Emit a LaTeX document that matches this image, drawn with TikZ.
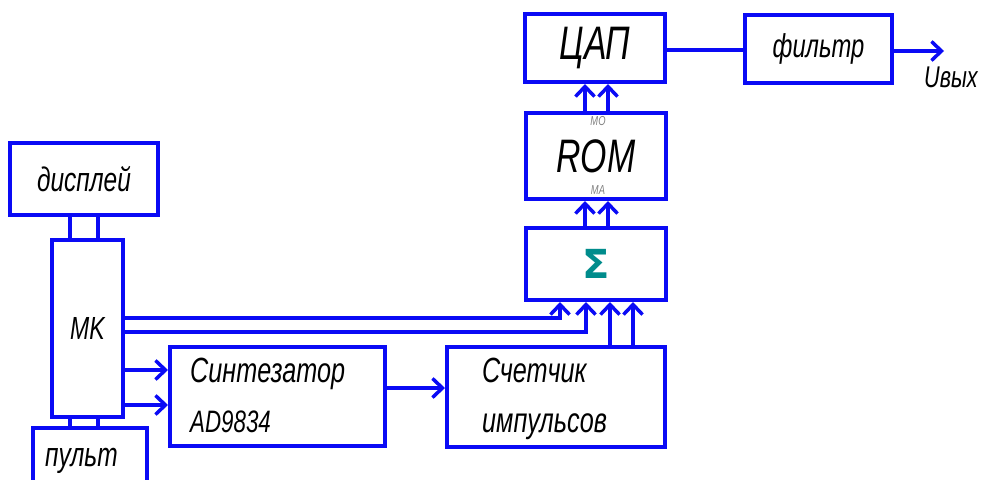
\documentclass[tikz,border=0pt]{standalone}
\usepackage{fontspec}
\usetikzlibrary{arrows.meta}
\newfontfamily\gost[FakeStretch=0.72]{Liberation Sans Italic}
\newfontfamily\sigfont{DejaVu Sans Bold}
\definecolor{lineblue}{RGB}{10,10,245}
\definecolor{sigteal}{RGB}{0,140,140}
\tikzset{
  box/.style={draw=lineblue, line width=4pt, rectangle, inner sep=0pt, font=\gost, text=black},
  conn/.style={draw=lineblue, line width=4pt},
  arr/.style={draw=lineblue, line width=4pt, -{Straight Barb[length=10pt,width=19pt,line width=3.5pt]}},
  txt/.style={font=\gost, text=black, inner sep=0pt},
  small/.style={font=\gost\fontsize{13}{13}\selectfont, text=gray, inner sep=0pt}
}
\begin{document}
\begin{tikzpicture}[x=1pt,y=-1pt]
\useasboundingbox (0,0) rectangle (984,479);
\clip (0,0) rectangle (984,479);
% boxes
\node[box, minimum width=140pt, minimum height=68pt, font=\gost\fontsize{47}{47}\selectfont] (dac) at (595,48) {ЦАП};
\node[box, minimum width=147pt, minimum height=68pt, font=\gost\fontsize{33}{33}\selectfont] (flt) at (818.5,49) {фильтр};
\node[box, minimum width=140pt, minimum height=86pt, font=\gost\fontsize{47}{47}\selectfont] (rom) at (596,156) {ROM};
\node[box, minimum width=140pt, minimum height=72pt] (sum) at (596,264) {};
\node[box, minimum width=148pt, minimum height=72pt, font=\gost\fontsize{34}{34}\selectfont] (disp) at (84,179) {дисплей};
\node[box, minimum width=71pt, minimum height=177pt, font=\gost\fontsize{32}{32}\selectfont] (mk) at (87.5,328.5) {MK};
\node[box, minimum width=114pt, minimum height=80pt] (pult) at (90,468) {};
\node[box, minimum width=215pt, minimum height=99pt] (syn) at (277.5,396.5) {};
\node[box, minimum width=218pt, minimum height=100pt] (cnt) at (556,397) {};
% texts
\node[font=\sigfont\fontsize{40}{40}\selectfont, text=sigteal, inner sep=0pt] (sig) at (sum.center) {Σ};
\node[small] (mo) at (598,121) {MO};
\node[small] (ma) at (598,190) {MA};
\node[txt, font=\gost\fontsize{34}{34}\selectfont, anchor=west] (pt) at (45,461) {пульт};
\node[txt, font=\gost\fontsize{35}{35}\selectfont, anchor=base west] (syn1) at (190,382) {Синтезатор};
\node[txt, font=\gost\fontsize{31}{31}\selectfont, anchor=base west] (syn2) at (190,432) {AD9834};
\node[txt, font=\gost\fontsize{35}{35}\selectfont, anchor=base west] (cnt1) at (482,382) {Счетчик};
\node[txt, font=\gost\fontsize{35}{35}\selectfont, anchor=base west] (cnt2) at (482,432) {импульсов};
\coordinate (out) at (944,51);
\node[txt, font=\gost\fontsize{30}{30}\selectfont] (uout) at (951,77) {Uвых};
% connectors
\draw[conn] (dac.east |- 0,50) -- (flt.west |- 0,50);
\draw[arr] (flt.east |- out) -- (out);
\draw[arr] (rom.north -| 585,0) -- (dac.south -| 585,0);
\draw[arr] (rom.north -| 608,0) -- (dac.south -| 608,0);
\draw[arr] (sum.north -| 585,0) -- (rom.south -| 585,0);
\draw[arr] (sum.north -| 608,0) -- (rom.south -| 608,0);
\draw[conn] (disp.south -| 70,0) -- (mk.north -| 70,0);
\draw[conn] (disp.south -| 98,0) -- (mk.north -| 98,0);
\draw[conn] (mk.south -| 70,0) -- (pult.north -| 70,0);
\draw[conn] (mk.south -| 98,0) -- (pult.north -| 98,0);
\draw[arr] (mk.east |- 0,318) -| (sum.south -| 560,0);
\draw[arr] (mk.east |- 0,332) -| (sum.south -| 586,0);
\draw[arr] (cnt.north -| 610,0) -- (sum.south -| 610,0);
\draw[arr] (cnt.north -| 633,0) -- (sum.south -| 633,0);
\draw[arr] (mk.east |- 0,370) -- (syn.west |- 0,370);
\draw[arr] (mk.east |- 0,405) -- (syn.west |- 0,405);
\draw[arr] (syn.east |- 0,388) -- (cnt.west |- 0,388);
\end{tikzpicture}
\end{document}
